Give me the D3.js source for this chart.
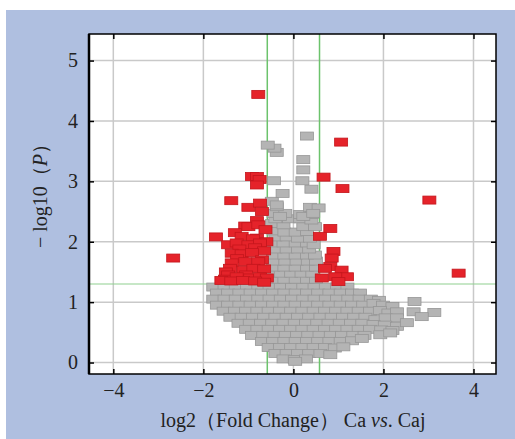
<!DOCTYPE html>
<html>
<head>
<meta charset="utf-8">
<script src="https://cdn.jsdelivr.net/npm/d3@7"></script>
<style>
  body{margin:0;background:#fff;}
  svg{display:block;}
</style>
</head>
<body>
<div class="chart"></div>
<script>
/* tick values */
var xTicks=[-4,-2,0,2,4];
var yTicks=[0,1,2,3,4,5];
/* thresholds: fold change and p = 0.05 */
var fcCut=[-0.58,0.58];
var pCut=1.3;

/* not significant genes [log2FC, -log10 P] */
var grayPts=[
  [-1.78,1.25],[-1.53,1.25],[-1.28,1.25],[-1.03,1.25],[-0.78,1.25],[-0.53,1.25],[-0.28,1.25],[-0.03,1.25],[0.22,1.25],[0.47,1.25],[0.72,1.25],[0.97,1.25],[1.2,1.25],
  [-1.7,1.15],[-1.45,1.15],[-1.2,1.15],[-0.95,1.15],[-0.7,1.15],[-0.45,1.15],[-0.2,1.15],[0.05,1.15],[0.3,1.15],[0.55,1.15],[0.8,1.15],[1.05,1.15],[1.3,1.15],[1.48,1.15],
  [-1.78,1.05],[-1.53,1.05],[-1.28,1.05],[-1.03,1.05],[-0.78,1.05],[-0.53,1.05],[-0.28,1.05],[-0.03,1.05],[0.22,1.05],[0.47,1.05],[0.72,1.05],[0.97,1.05],[1.22,1.05],[1.47,1.05],[1.72,1.05],[1.9,1.03],[2.69,1.01],
  [-1.7,0.95],[-1.45,0.95],[-1.2,0.95],[-0.95,0.95],[-0.7,0.95],[-0.45,0.95],[-0.2,0.95],[0.05,0.95],[0.3,0.95],[0.55,0.95],[0.8,0.95],[1.05,0.95],[1.3,0.95],[1.55,0.95],[1.78,0.98],[1.99,0.95],[2.2,0.93],
  [-1.55,0.85],[-1.3,0.85],[-1.05,0.85],[-0.8,0.85],[-0.55,0.85],[-0.3,0.85],[-0.05,0.85],[0.2,0.85],[0.45,0.85],[0.7,0.85],[0.95,0.85],[1.2,0.85],[1.45,0.85],[1.7,0.85],[1.92,0.86],[2.11,0.82],[2.3,0.84],[2.67,0.84],[3.13,0.83],
  [-1.4,0.75],[-1.15,0.75],[-0.9,0.75],[-0.65,0.75],[-0.4,0.75],[-0.15,0.75],[0.1,0.75],[0.35,0.75],[0.6,0.75],[0.85,0.75],[1.1,0.75],[1.35,0.75],[1.6,0.75],[1.82,0.71],[2.05,0.74],[2.3,0.74],[2.85,0.76],
  [-1.22,0.65],[-0.97,0.65],[-0.72,0.65],[-0.47,0.65],[-0.22,0.65],[0.03,0.65],[0.28,0.65],[0.53,0.65],[0.78,0.65],[1.03,0.65],[1.28,0.65],[1.53,0.65],[1.78,0.63],[2.03,0.62],[2.3,0.6],[2.52,0.66],
  [-1.05,0.55],[-0.8,0.55],[-0.55,0.55],[-0.3,0.55],[-0.05,0.55],[0.2,0.55],[0.45,0.55],[0.7,0.55],[0.95,0.55],[1.2,0.55],[1.45,0.55],[1.7,0.55],[1.95,0.54],[2.2,0.53],
  [-0.92,0.45],[-0.67,0.45],[-0.42,0.45],[-0.17,0.45],[0.08,0.45],[0.33,0.45],[0.58,0.45],[0.83,0.45],[1.08,0.45],[1.33,0.45],[1.58,0.45],[1.93,0.46],[2.15,0.49],
  [-0.7,0.35],[-0.45,0.35],[-0.2,0.35],[0.05,0.35],[0.3,0.35],[0.55,0.35],[0.8,0.35],[1.05,0.35],[1.3,0.36],[1.52,0.4],
  [-0.55,0.25],[-0.3,0.25],[-0.05,0.25],[0.2,0.25],[0.45,0.25],[0.7,0.25],[0.92,0.24],[1.11,0.26],
  [-0.4,0.15],[-0.15,0.15],[0.1,0.15],[0.35,0.15],[0.6,0.15],[0.82,0.13],
  [-0.22,0.06],[0.03,0.05],[0.28,0.06],[0.04,0.02],
  [-0.45,1.38],[-0.2,1.38],[0.05,1.38],[0.3,1.38],[0.5,1.38],
  [-0.5,1.48],[-0.28,1.48],[-0.05,1.48],[0.18,1.48],[0.42,1.48],
  [-0.45,1.58],[-0.2,1.58],[0.05,1.58],[0.3,1.58],[0.5,1.58],
  [-0.42,1.68],[-0.18,1.68],[0.07,1.68],[0.32,1.68],[0.5,1.68],
  [-0.45,1.78],[-0.2,1.78],[0.05,1.78],[0.3,1.78],[0.48,1.78],
  [-0.4,1.88],[-0.15,1.88],[0.1,1.88],[0.35,1.88],
  [-0.48,1.98],[-0.22,1.98],[0.05,1.98],[0.3,1.98],[0.45,1.95],
  [-0.4,2.08],[-0.15,2.08],[0.1,2.06],[0.37,2.06],
  [-0.44,2.18],[-0.2,2.16],[0.05,2.16],[0.3,2.17],
  [-0.48,2.3],[-0.22,2.28],[0.22,2.25],[0.48,2.25],
  [-0.4,2.38],[-0.1,2.38],[0.15,2.38],[0.4,2.36],
  [-0.44,2.47],[-0.18,2.47],[0.15,2.45],[0.41,2.45],
  [-0.37,2.58],[0.37,2.57],[0.56,2.56],[0.22,2.42],[-0.3,2.42],[0.44,2.47],
  [-0.48,2.67],[-0.37,2.61],
  [-0.24,2.80],[0.40,2.87],[-0.43,3.01],[0.20,3.01],[0.22,3.19],[0.22,3.36],
  [-0.37,3.48],[-0.42,3.55],[-0.57,3.60],[0.30,3.75]
];

/* significant genes */
var redPts=[
  [-0.78,4.44],
  [-0.92,3.08],[-0.81,3.08],[-0.75,3.03],[-0.81,2.94],
  [-1.38,2.68],[-1.0,2.57],[-0.74,2.64],[-0.70,2.50],
  [-1.07,2.26],[-0.81,2.35],[-1.0,2.25],[-0.78,2.28],[-0.62,2.2],
  [-1.72,2.08],[-1.3,2.15],[-1.15,2.09],[-0.81,2.06],[-0.9,2.05],[-0.6,2.0],
  [-1.45,1.95],[-1.26,1.98],[-1.0,1.95],[-0.74,1.98],[-1.2,1.88],[-0.85,1.9],[-0.65,1.85],
  [-1.37,1.81],[-1.15,1.8],[-0.92,1.82],[-1.25,1.72],[-0.7,1.7],
  [-1.37,1.65],[-1.07,1.67],[-0.78,1.67],
  [-1.41,1.56],[-1.11,1.53],[-0.89,1.56],[-0.65,1.55],[-1.5,1.5],
  [-1.45,1.45],[-1.05,1.45],[-1.52,1.38],[-1.26,1.42],[-0.96,1.40],[-0.74,1.42],[-0.59,1.40],
  [-1.6,1.36],[-1.38,1.35],[-1.12,1.36],[-0.85,1.35],[-0.65,1.33],
  [-2.67,1.73],
  [1.06,3.65],[0.67,3.07],[1.09,2.88],[3.02,2.69],[3.67,1.48],
  [0.82,2.22],[0.59,2.09],[0.89,1.84],[0.85,1.73],[0.82,1.59],[0.70,1.56],
  [1.07,1.53],[1.19,1.42],[0.93,1.42],[0.63,1.40],[1.0,1.34]
];

var W=515, H=439;
var plot={left:89, top:34, right:496, bottom:374};

var xScale=d3.scaleLinear().domain([-4.54,4.5]).range([plot.left,plot.right]);
var yScale=d3.scaleLinear().domain([-0.19,5.44]).range([plot.bottom,plot.top]);

var svg=d3.select(".chart").append("svg")
  .attr("width",W)
  .attr("height",H);

/* blue panel */
svg.append("rect")
  .attr("x",6).attr("y",10)
  .attr("width",W-6).attr("height",H-10)
  .attr("fill","#afbfe0");

svg.append("rect")
  .attr("x",plot.left).attr("y",plot.top)
  .attr("width",plot.right-plot.left).attr("height",plot.bottom-plot.top)
  .attr("fill","#fff");

/* grid */
svg.append("g").selectAll("line.gx")
  .data(xTicks).enter().append("line")
  .attr("x1",function(d){return xScale(d)}).attr("x2",function(d){return xScale(d)})
  .attr("y1",plot.top).attr("y2",plot.bottom)
  .attr("stroke","#c9c9c9").attr("stroke-width",1.5);

svg.append("g").selectAll("line.gy")
  .data(yTicks).enter().append("line")
  .attr("y1",function(d){return yScale(d)}).attr("y2",function(d){return yScale(d)})
  .attr("x1",plot.left).attr("x2",plot.right)
  .attr("stroke","#c9c9c9").attr("stroke-width",1.5);

/* threshold lines */
svg.append("g").selectAll("line")
  .data(fcCut).enter().append("line")
  .attr("x1",function(d){return xScale(d)}).attr("x2",function(d){return xScale(d)})
  .attr("y1",plot.top).attr("y2",plot.bottom)
  .attr("stroke","#6cc36c").attr("stroke-width",1.5);

svg.append("line")
  .attr("x1",plot.left).attr("x2",plot.right)
  .attr("y1",yScale(pCut)).attr("y2",yScale(pCut))
  .attr("stroke","#8fd08f").attr("stroke-width",1.2);

/* points */
var rw=13, rh=8;
svg.append("g").selectAll("rect")
  .data(grayPts).enter().append("rect")
  .attr("x",function(d){return xScale(d[0])-rw/2})
  .attr("y",function(d){return yScale(d[1])-rh/2})
  .attr("width",rw).attr("height",rh)
  .attr("fill","#b4b4b4")
  .attr("stroke","#969696").attr("stroke-width",0.8);

svg.append("g").selectAll("rect")
  .data(redPts).enter().append("rect")
  .attr("x",function(d){return xScale(d[0])-rw/2})
  .attr("y",function(d){return yScale(d[1])-rh/2})
  .attr("width",rw).attr("height",rh)
  .attr("fill","#e5232a")
  .attr("stroke","#c4161c").attr("stroke-width",0.8);

/* axes, ticks inward */
var font="'Liberation Serif','Times New Roman',serif";
function styleAxis(g){
  g.select(".domain").remove();
  g.selectAll(".tick line").attr("stroke","#000").attr("stroke-width",1.5);
  g.selectAll(".tick text").attr("fill","#222").style("font-family",font).style("font-size","20px");
}
svg.append("g")
  .attr("transform","translate(0,"+plot.bottom+")")
  .call(d3.axisBottom(xScale).tickValues(xTicks).tickSize(-5).tickPadding(9)
    .tickFormat(function(d){return d<0?"\u2212"+Math.abs(d):d}))
  .call(styleAxis);
svg.append("g")
  .attr("transform","translate(0,"+plot.top+")")
  .call(d3.axisTop(xScale).tickValues(xTicks).tickSize(-5).tickFormat(""))
  .call(styleAxis);
svg.append("g")
  .attr("transform","translate("+plot.left+",0)")
  .call(d3.axisLeft(yScale).tickValues(yTicks).tickSize(-5).tickPadding(11).tickFormat(d3.format("d")))
  .call(styleAxis);
svg.append("g")
  .attr("transform","translate("+plot.right+",0)")
  .call(d3.axisRight(yScale).tickValues(yTicks).tickSize(-5).tickFormat(""))
  .call(styleAxis);

/* frame */
svg.append("rect")
  .attr("x",plot.left).attr("y",plot.top)
  .attr("width",plot.right-plot.left).attr("height",plot.bottom-plot.top)
  .attr("fill","none").attr("stroke","#000").attr("stroke-width",1.5);
svg.append("line")
  .attr("x1",plot.left).attr("x2",plot.left)
  .attr("y1",plot.top).attr("y2",plot.bottom)
  .attr("stroke","#000").attr("stroke-width",2.5);

/* labels */
var xl=svg.append("text")
  .attr("x",293).attr("y",427)
  .attr("text-anchor","middle")
  .style("font-family",font).style("font-size","20px").attr("fill","#222");
xl.append("tspan").text("log2\uff08Fold Change\uff09 Ca ");
xl.append("tspan").style("font-style","italic").text("vs");
xl.append("tspan").text(". Caj");

var yl=svg.append("text")
  .attr("transform","translate(47,191) rotate(-90)")
  .attr("text-anchor","middle")
  .style("font-family",font).style("font-size","20px").attr("fill","#222");
yl.append("tspan").text("\u2212 log10\uff08");
yl.append("tspan").style("font-style","italic").text("P");
yl.append("tspan").text("\uff09");
</script>
</body>
</html>
